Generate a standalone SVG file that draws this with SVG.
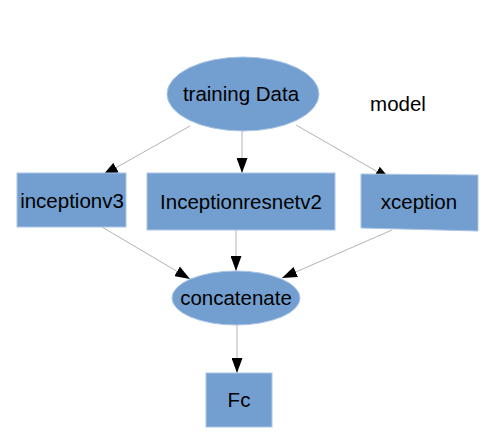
<svg xmlns="http://www.w3.org/2000/svg" width="500" height="439" viewBox="0 0 500 439">
<defs>
<style>
.n{fill:#729fcf;stroke:#aac5e6;stroke-width:1}
.t{font-family:"Liberation Sans",Arial,sans-serif;font-size:20.5px;fill:#000;text-anchor:middle}
.c{stroke:#b3b3b3;stroke-width:1;fill:none;marker-end:url(#ah)}
</style>
<marker id="ah" viewBox="0 0 15 11" refX="15" refY="5.5" markerWidth="15" markerHeight="11" markerUnits="userSpaceOnUse" orient="auto">
<path d="M0,0 L15,5.5 L0,11 Z" fill="#000"/>
</marker>
</defs>
<rect width="500" height="439" fill="#fff"/>
<g id="connectors">
<line class="c" x1="190" y1="126" x2="103" y2="175"/>
<line class="c" x1="242" y1="131" x2="242" y2="173"/>
<line class="c" x1="296" y1="125" x2="390" y2="179"/>
<line class="c" x1="102" y1="227" x2="190" y2="279"/>
<line class="c" x1="236" y1="230" x2="236" y2="271"/>
<line class="c" x1="392" y1="230" x2="282" y2="278"/>
<line class="c" x1="237" y1="325" x2="237" y2="373"/>
</g>
<g id="training">
<ellipse class="n" cx="243" cy="94" rx="76" ry="37"/>
<text class="t" x="241" y="101">training Data</text>
</g>
<g id="model">
<text class="t" x="398" y="111">model</text>
</g>
<g id="inceptionv3">
<rect class="n" x="17" y="173" width="109" height="54"/>
<text class="t" x="72" y="208">inceptionv3</text>
</g>
<g id="inceptionresnetv2">
<rect class="n" x="147" y="173" width="188" height="57"/>
<text class="t" x="241" y="209">Inceptionresnetv2</text>
</g>
<g id="xception">
<polygon class="n" points="361,174 478,175 478,231 361,228"/>
<text class="t" x="419" y="209">xception</text>
</g>
<g id="concatenate">
<ellipse class="n" cx="236" cy="298" rx="64" ry="27"/>
<text class="t" x="236" y="305">concatenate</text>
</g>
<g id="fc">
<rect class="n" x="206" y="373" width="66" height="54"/>
<text class="t" x="239" y="407">Fc</text>
</g>
</svg>
